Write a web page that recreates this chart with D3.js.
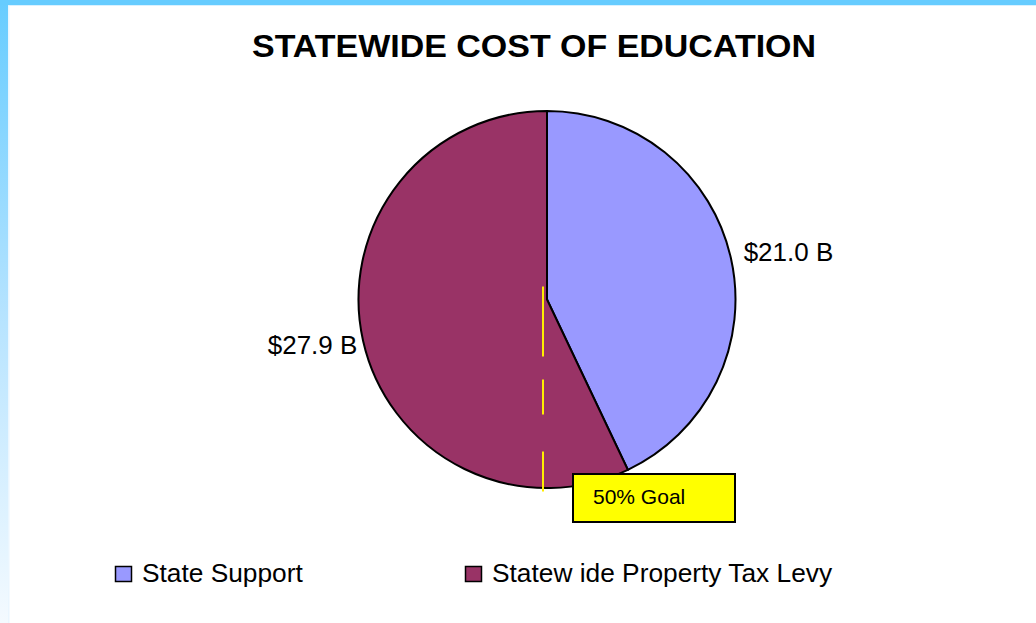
<!DOCTYPE html>
<html>
<head>
<meta charset="utf-8">
<script src="https://cdn.jsdelivr.net/npm/d3@7"></script>
<style>
  html, body { margin: 0; padding: 0; background: #fff; }
  svg { display: block; font-family: "Liberation Sans", Arial, sans-serif; }
</style>
</head>
<body>
<div id="chart"></div>
<script>
// Chart data
const categories = ["State Support", "Statew ide Property Tax Levy"];
const values = [21.0, 27.9];
const valueLabels = ["$21.0 B", "$27.9 B"];
const colors = ["#9999FF", "#993366"];
const goalLabel = "50% Goal";

const W = 1036, H = 623;

const svg = d3.select("#chart").append("svg")
    .attr("width", W)
    .attr("height", H);

// Slide frame: blue band on top, fading band on the left
const defs = svg.append("defs");
const grad = defs.append("linearGradient")
    .attr("id", "leftBand")
    .attr("x1", 0).attr("y1", 0).attr("x2", 0).attr("y2", 1);
grad.append("stop").attr("offset", "0%").attr("stop-color", "#66CCFF");
grad.append("stop").attr("offset", "50%").attr("stop-color", "#B5E3FF");
grad.append("stop").attr("offset", "100%").attr("stop-color", "#F4FAFF");

svg.append("rect").attr("x", 0).attr("y", 0).attr("width", 8).attr("height", H)
    .attr("fill", "url(#leftBand)");
svg.append("rect").attr("x", 8).attr("y", 5).attr("width", 1.5).attr("height", H - 5)
    .attr("fill", "#EAF6FF");
svg.append("rect").attr("x", 0).attr("y", 0).attr("width", W).attr("height", 5)
    .attr("fill", "#66CCFF");
svg.append("rect").attr("x", 8).attr("y", 5).attr("width", W - 8).attr("height", 1)
    .attr("fill", "#D9F1FF");

// Title
svg.append("text")
    .attr("x", 534)
    .attr("y", 57)
    .attr("text-anchor", "middle")
    .attr("textLength", 564)
    .attr("lengthAdjust", "spacingAndGlyphs")
    .style("font-size", "31px")
    .style("font-weight", "bold")
    .style("fill", "#000")
    .text("STATEWIDE COST OF EDUCATION");

// Pie
const cx = 547, cy = 299.5, radius = 188.5;

const pie = d3.pie().sort(null).value(d => d);
const arcs = pie(values);
const arc = d3.arc().innerRadius(0).outerRadius(radius);
const labelArc = d3.arc().innerRadius(radius + 10).outerRadius(radius + 10);

const g = svg.append("g").attr("transform", `translate(${cx},${cy})`);

g.selectAll("path.slice")
    .data(arcs)
    .enter().append("path")
    .attr("class", "slice")
    .attr("d", arc)
    .attr("fill", (d, i) => colors[i])
    .attr("stroke", "#000")
    .attr("stroke-width", 2)
    .attr("stroke-linejoin", "miter");

g.selectAll("text.value")
    .data(arcs)
    .enter().append("text")
    .attr("class", "value")
    .attr("x", d => labelArc.centroid(d)[0] + (labelArc.centroid(d)[0] > 0 ? 3 : 4))
    .attr("y", d => labelArc.centroid(d)[1] + (labelArc.centroid(d)[0] > 0 ? -4 : 2))
    .attr("dy", "0.35em")
    .attr("text-anchor", d => labelArc.centroid(d)[0] > 0 ? "start" : "end")
    .style("font-size", "26px")
    .style("fill", "#000")
    .text((d, i) => valueLabels[i]);

// 50% goal marker
g.append("line")
    .attr("x1", -4).attr("x2", -4)
    .attr("y1", -13).attr("y2", radius + 4)
    .attr("stroke", "#FFEE00")
    .attr("stroke-width", 2)
    .attr("stroke-dasharray", "70,23,35,37,40,100");

g.append("rect")
    .attr("x", 26)
    .attr("y", radius - 14)
    .attr("width", 162)
    .attr("height", 48)
    .attr("fill", "#FFFF00")
    .attr("stroke", "#000")
    .attr("stroke-width", 2);

g.append("text")
    .attr("x", 46)
    .attr("y", radius + 16)
    .style("font-size", "21px")
    .style("fill", "#000")
    .text(goalLabel);

// Legend
const legendX = [115, 465];
const legend = svg.selectAll("g.legend")
    .data(categories)
    .enter().append("g")
    .attr("class", "legend")
    .attr("transform", (d, i) => `translate(${legendX[i]},566)`);

legend.append("rect")
    .attr("x", 0.5).attr("y", 0.5)
    .attr("width", 16).attr("height", 15)
    .attr("fill", (d, i) => colors[i])
    .attr("stroke", "#000")
    .attr("stroke-width", 1.5);

legend.append("text")
    .attr("x", 27)
    .attr("y", 16)
    .style("font-size", "26.3px")
    .style("fill", "#000")
    .text(d => d);
</script>
</body>
</html>
